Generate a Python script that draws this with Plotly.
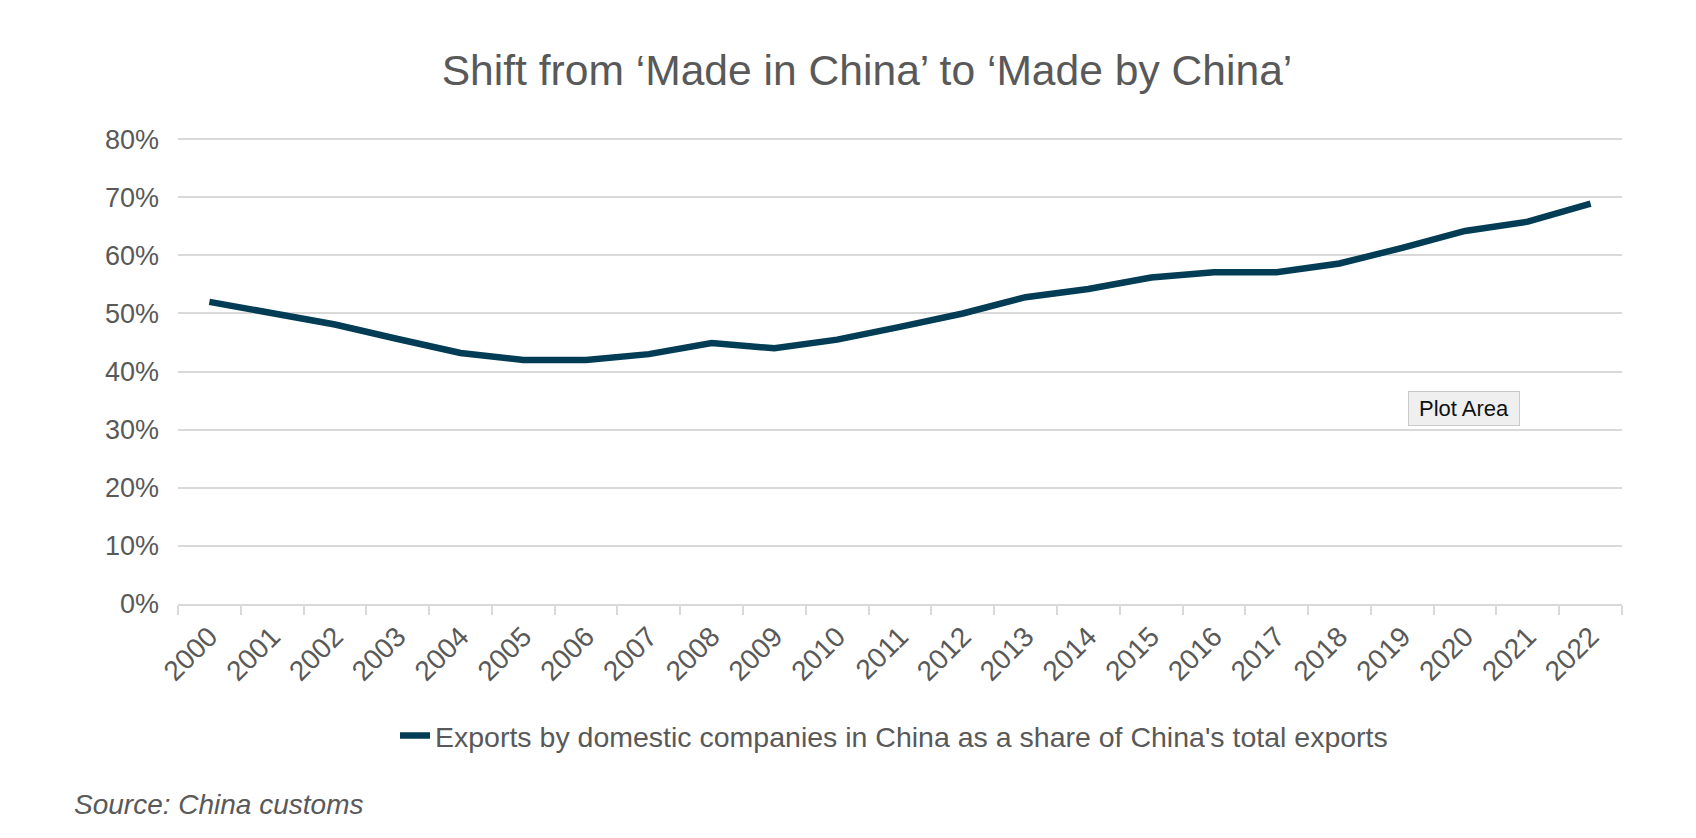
import plotly.graph_objects as go

years = [str(y) for y in range(2000, 2023)]
share = [52.0, 50.1, 48.1, 45.6, 43.2, 42.0, 42.0, 43.0, 44.9, 44.0, 45.5,
         47.7, 50.0, 52.8, 54.2, 56.2, 57.1, 57.1, 58.6, 61.3, 64.2, 65.8, 68.9]
y_ticks = [0, 10, 20, 30, 40, 50, 60, 70, 80]
y_tick_labels = [f"{v}%" for v in y_ticks]

series_name = "Exports by domestic companies in China as a share of China's total exports"
title_text = "Shift from \u2018Made in China\u2019 to \u2018Made by China\u2019"
source_text = "Source: China customs"

FONT = "Liberation Sans, Arial, Helvetica, sans-serif"
GREY_TXT = "#595959"
GRID = "#d9d9d9"
LINE = "#033d55"

# page body has an 8px margin: figure coordinates = page coordinates - 8
OFF = 8
W, H = 1696 - OFF, 838 - OFF
PL, PR, PT, PB = 178 - OFF, 1622 - OFF, 138 - OFF, 604 - OFF
PW, PH = PR - PL, PB - PT


def px_x(page_x):
    return (page_x - OFF - PL) / PW


def px_y(page_y):
    return (PB - (page_y - OFF)) / PH


fig = go.Figure()
fig.add_trace(go.Scatter(
    x=years, y=share, mode="lines", name=series_name,
    line=dict(color=LINE, width=6.5, shape="linear"),
))

fig.update_layout(
    width=W, height=H,
    paper_bgcolor="white", plot_bgcolor="white",
    margin=dict(l=PL, r=W - PR, t=PT, b=H - PB, autoexpand=False),
    font=dict(family=FONT, color=GREY_TXT, size=27),
    title=dict(text=title_text, xref="container", x=(867 - OFF) / W, xanchor="center",
               yref="container", y=1 - (70 - OFF) / H, yanchor="middle",
               font=dict(size=42.6, color=GREY_TXT, family=FONT)),
    showlegend=True,
    legend=dict(orientation="h", x=px_x(894), xanchor="center",
                y=px_y(736), yanchor="middle",
                font=dict(size=28.5, color=GREY_TXT, family=FONT),
                bgcolor="rgba(0,0,0,0)"),
)

fig.update_xaxes(
    type="category", range=[-0.5, len(years) - 0.5], tickangle=-45, showgrid=False,
    showline=True, linecolor=GRID, linewidth=2,
    ticks="outside", tickson="boundaries", ticklen=9, tickcolor=GRID, tickwidth=2,
    ticklabelstandoff=3,
    tickfont=dict(size=28, color=GREY_TXT, family=FONT),
)
fig.update_yaxes(
    range=[0, 80.2], tickmode="array", tickvals=y_ticks, ticktext=y_tick_labels,
    showgrid=True, gridcolor=GRID, gridwidth=2,
    zeroline=False, showline=False, ticks="",
    ticklabelstandoff=18,
    tickfont=dict(size=27, color=GREY_TXT, family=FONT),
)

fig.add_annotation(
    text=source_text, xref="paper", yref="paper",
    x=px_x(72), xanchor="left", y=px_y(804), yanchor="middle",
    showarrow=False,
    font=dict(size=28, color=GREY_TXT, family=FONT, style="italic"),
)

fig.add_annotation(
    text="Plot Area", xref="paper", yref="paper",
    x=px_x(1464), xanchor="center", y=px_y(408), yanchor="middle",
    showarrow=False, bgcolor="#efefef", bordercolor="#c9c9c9", borderwidth=1,
    borderpad=5, width=100, height=23,
    font=dict(size=22, color="#111111", family="Helvetica, Arial, sans-serif"),
)

fig.write_html("out.html")
